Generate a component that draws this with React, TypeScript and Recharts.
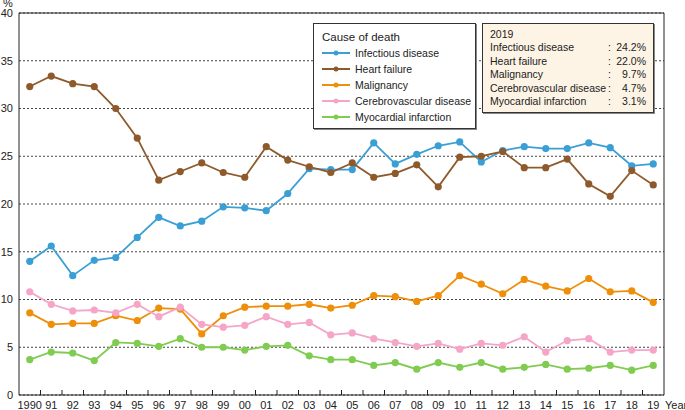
import { LineChart, Line, XAxis, YAxis, CartesianGrid, ReferenceLine, Legend } from 'recharts';

const YEARS = [
  '1990', '91', '92', '93', '94', '95', '96', '97', '98', '99',
  '00', '01', '02', '03', '04', '05', '06', '07', '08', '09',
  '10', '11', '12', '13', '14', '15', '16', '17', '18', '19',
];

const INFECTIOUS = [14.0, 15.6, 12.5, 14.1, 14.4, 16.5, 18.6, 17.7, 18.2, 19.7, 19.6, 19.3, 21.1, 23.7, 23.6, 23.6, 26.4, 24.2, 25.2, 26.1, 26.5, 24.4, 25.6, 26.0, 25.8, 25.8, 26.4, 25.9, 24.0, 24.2];
const HEART_FAILURE = [32.3, 33.4, 32.6, 32.3, 30.0, 26.9, 22.5, 23.4, 24.3, 23.3, 22.8, 26.0, 24.6, 23.9, 23.3, 24.3, 22.8, 23.2, 24.1, 21.8, 24.9, 25.0, 25.5, 23.8, 23.8, 24.7, 22.1, 20.8, 23.5, 22.0];
const MALIGNANCY = [8.6, 7.4, 7.5, 7.5, 8.3, 7.8, 9.1, 9.0, 6.4, 8.3, 9.2, 9.3, 9.3, 9.5, 9.1, 9.4, 10.4, 10.3, 9.8, 10.4, 12.5, 11.6, 10.6, 12.1, 11.4, 10.9, 12.2, 10.8, 10.9, 9.7];
const CEREBROVASCULAR = [10.8, 9.5, 8.8, 8.9, 8.6, 9.5, 8.2, 9.2, 7.4, 7.1, 7.3, 8.2, 7.4, 7.6, 6.3, 6.5, 5.9, 5.5, 5.1, 5.4, 4.8, 5.4, 5.2, 6.1, 4.5, 5.7, 5.9, 4.5, 4.7, 4.7];
const MYOCARDIAL = [3.7, 4.5, 4.4, 3.6, 5.5, 5.4, 5.1, 5.9, 5.0, 5.0, 4.7, 5.1, 5.2, 4.1, 3.7, 3.7, 3.1, 3.4, 2.7, 3.4, 2.9, 3.4, 2.7, 2.9, 3.2, 2.7, 2.8, 3.1, 2.6, 3.1];

const Y_TICKS = [0, 5, 10, 15, 20, 25, 30, 35, 40];

const SERIES = [
  { key: 'infectious', name: 'Infectious disease', color: '#3a9fd4', values: INFECTIOUS },
  { key: 'heart', name: 'Heart failure', color: '#8e5a2c', values: HEART_FAILURE },
  { key: 'malignancy', name: 'Malignancy', color: '#ef8e08', values: MALIGNANCY },
  { key: 'cerebro', name: 'Cerebrovascular disease', color: '#f5a5c8', values: CEREBROVASCULAR },
  { key: 'myocardial', name: 'Myocardial infarction', color: '#80cc50', values: MYOCARDIAL },
];

const FONT = '"Liberation Sans", Arial, sans-serif';
const INK = '#222';

const data = YEARS.map((year, i) => {
  const row: Record<string, number | string> = { i, year };
  SERIES.forEach((s) => { row[s.key] = s.values[i]; });
  return row;
});

const labelTicks = YEARS.map((_, i) => i);
const boundaryTicks = YEARS.slice(1).map((_, i) => i + 0.5);

// legend keeps the series order (recharts' payload comes back re-sorted)
function LegendBox() {
  return (
    <div
      style={{
        background: '#fff',
        border: '1px solid #333',
        boxShadow: '1px 1px 0 #888',
        padding: '5px 8px',
        boxSizing: 'border-box',
        width: 163,
        height: 106,
        fontFamily: FONT,
        fontSize: 10.5,
        color: INK,
        lineHeight: '16px',
        textAlign: 'left',
      }}
    >
      <div style={{ fontSize: 11.5 }}>Cause of death</div>
      {SERIES.map((s) => (
        <div key={s.key} style={{ display: 'flex', alignItems: 'center', height: 16, whiteSpace: 'nowrap' }}>
          <svg width={28} height={10} style={{ marginRight: 5, flexShrink: 0 }}>
            <line x1={0} y1={5} x2={28} y2={5} stroke={s.color} strokeWidth={2} />
            <circle cx={14} cy={5} r={2.5} fill={s.color} />
          </svg>
          <span>{s.name}</span>
        </div>
      ))}
    </div>
  );
}

export default function App() {
  const last = YEARS.length - 1;
  return (
    <div style={{ position: 'relative', width: 685, height: 410, fontFamily: FONT, color: INK, overflow: 'hidden' }}>
      <style>{'body { margin: 0; }'}</style>
      <LineChart
        width={685}
        height={410}
        data={data}
        margin={{ top: 13, right: 21, bottom: 0, left: 0 }}
        style={{ fontFamily: FONT }}
      >
        <CartesianGrid horizontal vertical={false} stroke="#444" strokeDasharray="2 2" />
        <XAxis
          type="number"
          dataKey="i"
          domain={[-0.5, 29.5]}
          ticks={labelTicks}
          interval={0}
          tickFormatter={(v: number) => YEARS[v]}
          tickLine={false}
          tickSize={0}
          tickMargin={6}
          height={15}
          axisLine={{ stroke: INK }}
          tick={{ fontSize: 11, fill: INK }}
        />
        {/* inner tick marks between the years */}
        <XAxis
          xAxisId="bounds"
          type="number"
          dataKey="i"
          domain={[-0.5, 29.5]}
          ticks={boundaryTicks}
          interval={0}
          mirror
          height={5}
          tickFormatter={() => ''}
          tickSize={5}
          axisLine={false}
          tickLine={{ stroke: INK }}
        />
        <YAxis
          domain={[0, 40]}
          ticks={Y_TICKS}
          interval={0}
          width={19}
          tickLine={false}
          tickSize={4}
          tickMargin={2}
          axisLine={{ stroke: INK }}
          tick={{ fontSize: 11, fill: INK }}
        />
        <ReferenceLine y={40} stroke={INK} />
        <ReferenceLine x={29.5} stroke={INK} />
        {SERIES.map((s) => (
          <Line
            key={s.key}
            dataKey={s.key}
            name={s.name}
            stroke={s.color}
            strokeWidth={1.8}
            dot={{ r: 3.6, fill: s.color, stroke: s.color, strokeWidth: 0 }}
            activeDot={false}
            isAnimationActive={false}
          />
        ))}
        <Legend
          layout="vertical"
          align="center"
          verticalAlign="middle"
          content={<LegendBox />}
          wrapperStyle={{ position: 'absolute', left: 313, top: 23, width: 163, height: 106 }}
        />
      </LineChart>

      {/* axis captions */}
      <div style={{ position: 'absolute', left: 3, top: -2, fontSize: 11, lineHeight: '11px' }}>%</div>
      <div style={{ position: 'absolute', left: 665, top: 400, fontSize: 11, lineHeight: '11px' }}>Year</div>

      {/* 2019 box */}
      <div
        style={{
          position: 'absolute',
          left: 482,
          top: 23,
          width: 172,
          height: 90,
          boxSizing: 'border-box',
          background: '#fdf4e6',
          border: '1px solid #333',
          boxShadow: '1px 1px 0 #888',
          padding: '4px 7px',
          fontSize: 10.5,
          lineHeight: '13.4px',
          whiteSpace: 'nowrap',
        }}
      >
        <div>{YEARS[last] === '19' ? '2019' : YEARS[last]}</div>
        {SERIES.map((s) => (
          <div key={s.key} style={{ display: 'flex' }}>
            <span style={{ width: 118 }}>{s.name}</span>
            <span style={{ width: 4 }}>:</span>
            <span style={{ width: 34, textAlign: 'right' }}>{s.values[last].toFixed(1)}%</span>
          </div>
        ))}
      </div>
    </div>
  );
}
